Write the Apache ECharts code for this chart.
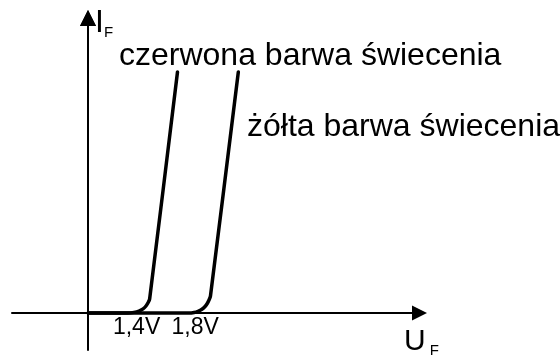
<!DOCTYPE html>
<html>
<head>
<meta charset="utf-8">
<style>
  html, body { margin: 0; padding: 0; background: #fff; }
  #chart { width: 560px; height: 355px; }
</style>
<script src="https://cdn.jsdelivr.net/npm/echarts@6/dist/echarts.min.js"></script>
</head>
<body>
<div id="chart"></div>
<script>
// LED forward characteristics I_F(U_F): red and yellow emission
const redU = [1.07, 1.341, 1.382, 1.416, 1.444, 1.464, 1.479, 1.489, 1.679];
const redI = [0, 0, 0.24, 0.71, 1.46, 2.41, 3.59, 4.78, 81.7];
const yellowU = [1.07, 1.758, 1.792, 1.819, 1.846, 1.867, 1.882, 1.894, 1.904, 2.094];
const yellowI = [0, 0, 0.2, 0.61, 1.29, 2.24, 3.25, 4.44, 5.79, 81.7];

// forward voltage marks on the U axis
const tickValues = [1.4, 1.8];
const seriesNames = ['czerwona barwa świecenia', 'żółta barwa świecenia'];

const uMin = 0.55, uMax = 3.33;
const iMin = -12.5, iMax = 100;

const zip = (xs, ys) => xs.map((x, i) => [x, ys[i]]);
const FONT = 'Liberation Sans, Arial, sans-serif';

// plot area and the inward shift of the current axis
const GRID = { left: 12, right: 140.5, top: 18, bottom: 5 };
const Y_AXIS_SHIFT = 76;
const ARROW = 8;

const chart = echarts.init(document.getElementById('chart'), null, { renderer: 'canvas' });

const curveStyle = { color: '#000', width: 3.5, cap: 'round', join: 'round' };
const axisX = GRID.left + Y_AXIS_SHIFT;
const axisTop = GRID.top;

chart.setOption({
  animation: false,
  grid: Object.assign({ outerBoundsMode: 'none' }, GRID),
  xAxis: {
    type: 'value',
    min: uMin,
    max: uMax,
    axisLine: {
      onZero: true,
      lineStyle: { color: '#000', width: 2 },
      symbol: ['none', 'triangle'],
      symbolSize: [15, 15]
    },
    axisTick: { show: false },
    splitLine: { show: false },
    axisLabel: {
      customValues: tickValues,
      color: '#000',
      fontFamily: FONT,
      fontSize: 23,
      margin: -34,
      formatter: v => String(v).replace('.', ',') + 'V'
    },
    name: '{u|U}{f|F}',
    nameLocation: 'end',
    nameGap: -15.5,
    nameTextStyle: {
      align: 'left',
      verticalAlign: 'top',
      padding: [14, 0, 0, 0],
      rich: {
        u: { fontFamily: FONT, fontSize: 30, lineHeight: 30, color: '#000', verticalAlign: 'top' },
        f: { fontFamily: FONT, fontSize: 15, lineHeight: 15, color: '#000', verticalAlign: 'top', padding: [16, 0, 0, 4] }
      }
    }
  },
  yAxis: {
    type: 'value',
    min: iMin,
    max: iMax,
    position: 'left',
    offset: -Y_AXIS_SHIFT,
    axisLine: {
      show: true,
      onZero: false,
      lineStyle: { color: '#000', width: 2 },
      symbol: ['none', 'triangle'],
      symbolSize: [16, 16]
    },
    axisTick: { show: false },
    axisLabel: { show: false },
    splitLine: { show: false }
  },
  series: [
    {
      name: seriesNames[0],
      type: 'line',
      data: zip(redU, redI),
      smooth: 0.2,
      symbol: 'none',
      lineStyle: curveStyle
    },
    {
      name: seriesNames[1],
      type: 'line',
      data: zip(yellowU, yellowI),
      smooth: 0.2,
      symbol: 'none',
      lineStyle: curveStyle
    }
  ],
  graphic: [
    {
      // arrowhead closing the current axis
      type: 'polygon',
      z: 100,
      shape: {
        points: [
          [axisX, axisTop - ARROW],
          [axisX + ARROW, axisTop + ARROW],
          [axisX - ARROW, axisTop + ARROW]
        ]
      },
      style: { fill: '#000', stroke: null }
    },
    {
      // current axis title I_F
      type: 'text',
      left: 95,
      top: 7,
      style: {
        text: '{i|I}{f|F}',
        rich: {
          i: { fontFamily: FONT, fontSize: 32, lineHeight: 32, fill: '#000', verticalAlign: 'top' },
          f: { fontFamily: FONT, fontSize: 15, lineHeight: 15, fill: '#000', verticalAlign: 'top', padding: [18.5, 0, 0, 0] }
        }
      }
    },
    {
      type: 'text',
      left: 119,
      top: 40,
      style: { text: seriesNames[0], fontFamily: FONT, fontSize: 32, fill: '#000' }
    },
    {
      type: 'text',
      left: 247,
      top: 111,
      style: { text: seriesNames[1], fontFamily: FONT, fontSize: 32, fill: '#000' }
    }
  ]
});
</script>
</body>
</html>
